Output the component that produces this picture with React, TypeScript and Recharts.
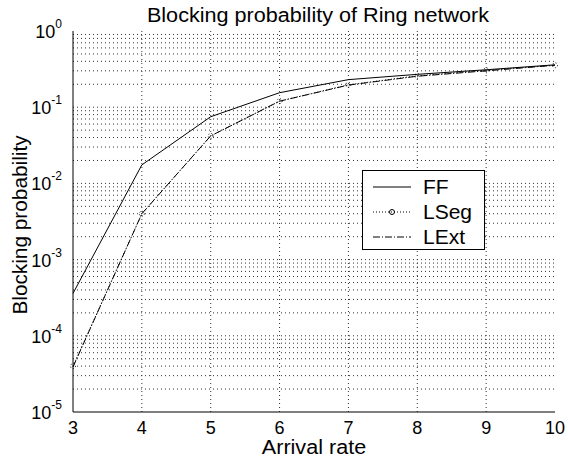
import React from 'react';
import {
  LineChart,
  Line,
  XAxis,
  YAxis,
  ReferenceLine,
} from 'recharts';

const arrivalRates = [3, 4, 5, 6, 7, 8, 9, 10];
const ffValues = [3.6e-4, 1.75e-2, 7.5e-2, 0.155, 0.23, 0.27, 0.31, 0.36];
const lsegValues = [4.0e-5, 4.0e-3, 4.2e-2, 0.12, 0.197, 0.258, 0.305, 0.355];
const lextValues = [3.9e-5, 4.0e-3, 4.2e-2, 0.12, 0.195, 0.255, 0.3, 0.355];

const xTicks = [3, 4, 5, 6, 7, 8, 9, 10];
const decadeTicks = [1e-5, 1e-4, 1e-3, 1e-2, 1e-1, 1];
const minorMultipliers = [2, 3, 4, 5, 6, 7, 8, 9];

const data = arrivalRates.map((x, i) => ({
  x,
  FF: ffValues[i],
  LSeg: lsegValues[i],
  LExt: lextValues[i],
}));

const minorLines: number[] = [];
decadeTicks.slice(0, -1).forEach((d) => {
  minorMultipliers.forEach((m) => minorLines.push(d * m));
});

const FONT = '"Liberation Sans", Arial, sans-serif';
const gridStyle = { stroke: '#333', strokeDasharray: '1 3', strokeWidth: 1 };

const PowerTick = (props: any) => {
  const { x, y, payload } = props;
  const exp = Math.round(Math.log10(payload.value));
  return (
    <text x={x - 9} y={y + 7} textAnchor="end" fontFamily={FONT} fontSize={18} fill="#000">
      <tspan>10</tspan>
      <tspan dy={-10} fontSize={12}>{exp}</tspan>
    </text>
  );
};

const series = [
  { key: 'FF', dash: undefined, dot: false },
  { key: 'LSeg', dash: '1 2', dot: true },
  { key: 'LExt', dash: '7 2 1 2', dot: false },
];

const LegendBox = () => (
  <div
    style={{
      position: 'absolute',
      left: 362,
      top: 170,
      width: 123,
      height: 80,
      boxSizing: 'border-box',
      border: '1px solid #000',
      background: '#fff',
      paddingTop: 3,
      fontFamily: FONT,
      fontSize: 21,
    }}
  >
    {series.map((s) => (
      <div key={s.key} style={{ display: 'flex', alignItems: 'center', height: 25 }}>
        <svg width={50} height={10} style={{ marginLeft: 10 }}>
          <line x1={0} y1={5} x2={38} y2={5} stroke="#000" strokeDasharray={s.dash} />
          {s.dot && <circle cx={19} cy={5} r={2.5} fill="none" stroke="#000" />}
        </svg>
        <span>{s.key}</span>
      </div>
    ))}
  </div>
);

const labelText: React.CSSProperties = {
  position: 'absolute',
  fontFamily: FONT,
  fontSize: 20,
  whiteSpace: 'nowrap',
  lineHeight: '20px',
};

export default function App() {
  return (
    <div style={{ position: 'absolute', left: 0, top: 0, width: 568, height: 460, background: '#fff' }}>
      <LineChart
        width={568}
        height={460}
        data={data}
        margin={{ top: 31, right: 13, bottom: 18, left: 13 }}
        style={{ position: 'absolute', left: 0, top: 0 }}
      >
        <XAxis
          dataKey="x"
          type="number"
          domain={[3, 10]}
          ticks={xTicks}
          height={30}
          tickSize={0}
          tickMargin={9}
          tick={{ fontFamily: FONT, fontSize: 18, fill: '#000' }}
          axisLine={{ stroke: '#000' }}
        />
        <XAxis xAxisId="top" dataKey="x" type="number" domain={[3, 10]} orientation="top" height={0} tick={false} tickLine={false} axisLine={{ stroke: '#000' }} />
        <YAxis
          type="number"
          scale="log"
          domain={[1e-5, 1]}
          allowDataOverflow
          ticks={decadeTicks}
          width={60}
          tickSize={0}
          tick={<PowerTick />}
          axisLine={{ stroke: '#000' }}
        />
        <YAxis yAxisId="right" orientation="right" type="number" scale="log" domain={[1e-5, 1]} allowDataOverflow width={0} tick={false} tickLine={false} axisLine={{ stroke: '#000' }} />
        {xTicks.slice(1, -1).map((v) => (
          <ReferenceLine key={`vx-${v}`} x={v} {...gridStyle} />
        ))}
        {decadeTicks.slice(1, -1).map((v) => (
          <ReferenceLine key={`hd-${v}`} y={v} {...gridStyle} />
        ))}
        {minorLines.map((v) => (
          <ReferenceLine key={`hm-${v}`} y={v} {...gridStyle} />
        ))}
        <Line dataKey="FF" stroke="#000" strokeWidth={1} dot={false} isAnimationActive={false} />
        <Line
          dataKey="LSeg"
          stroke="#000"
          strokeWidth={1}
          strokeDasharray="1 2"
          dot={{ r: 2.5, stroke: '#000', fill: 'none' }}
          isAnimationActive={false}
        />
        <Line dataKey="LExt" stroke="#000" strokeWidth={1} strokeDasharray="7 2 1 2" dot={false} isAnimationActive={false} />
      </LineChart>
      <LegendBox />
      <div style={{ ...labelText, left: 318, top: 5, transform: 'translateX(-50%) scaleX(1.08)' }}>
        Blocking probability of Ring network
      </div>
      <div style={{ ...labelText, left: 314, top: 437, transform: 'translateX(-50%) scaleX(1.08)' }}>
        Arrival rate
      </div>
      <div
        style={{
          ...labelText,
          left: 20,
          top: 225,
          transform: 'translate(-50%, -50%) rotate(-90deg) scaleX(1.04)',
        }}
      >
        Blocking probability
      </div>
    </div>
  );
}
